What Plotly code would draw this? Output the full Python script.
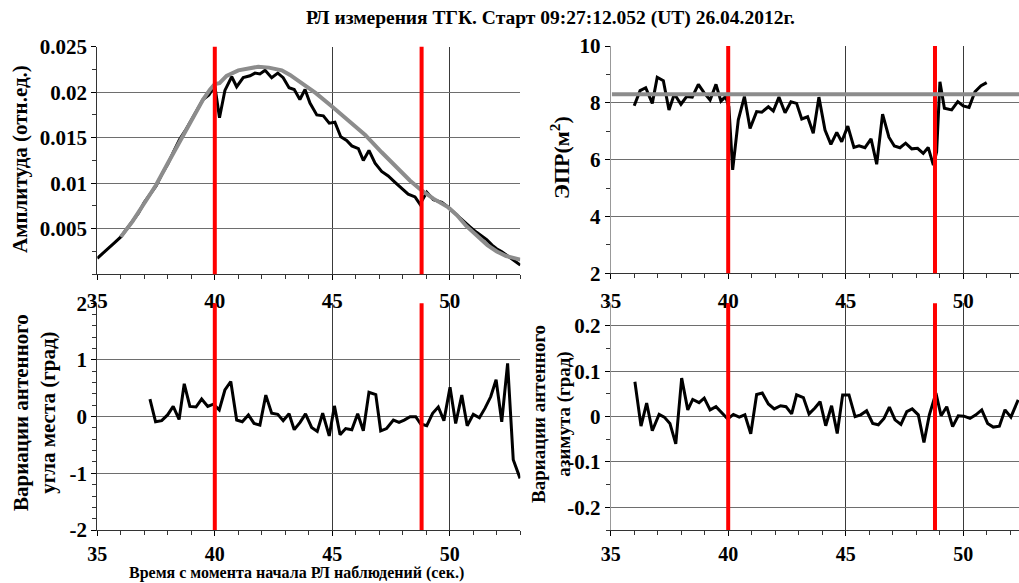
import plotly.graph_objects as go

# ---------------- data ----------------
title_text = "РЛ измерения ТГК. Старт 09:27:12.052 (UT) 26.04.2012г."
x_title = "Время с момента начала РЛ наблюдений (сек.)"

amp_t = [35.0, 35.25, 35.5, 35.75, 36.0, 36.25, 36.5, 36.75, 37.0, 37.25, 37.5, 37.75, 38.0, 38.25,
         38.5, 38.75, 39.0, 39.25, 39.5, 39.75, 40.0, 40.2, 40.43, 40.72, 40.93, 41.21, 41.5, 41.71,
         41.92, 42.14, 42.42, 42.68, 42.91, 43.16, 43.38, 43.62, 43.84, 44.05, 44.34, 44.62, 44.87,
         45.11, 45.36, 45.61, 45.83, 46.11, 46.32, 46.56, 46.82, 47.1, 47.38, 47.67, 47.95, 48.23,
         48.52, 48.73, 49.02, 49.3, 49.66, 50.01, 50.3, 50.58, 50.86, 51.14, 51.35, 51.57, 51.8,
         51.99, 52.2, 52.42, 52.7, 52.92, 53.0]
amp_v = [0.00175, 0.0023, 0.0029, 0.0035, 0.0041, 0.0050, 0.0058, 0.0067, 0.0079, 0.0088, 0.0097,
         0.0110, 0.0121, 0.0135, 0.0148, 0.0158, 0.0169, 0.0181, 0.0192, 0.0197, 0.0207, 0.0172,
         0.0202, 0.0217, 0.0206, 0.0216, 0.0218, 0.0221, 0.0220, 0.0224, 0.0216, 0.0221, 0.0216,
         0.0205, 0.0203, 0.0192, 0.0203, 0.0188, 0.0175, 0.0174, 0.0166, 0.0167, 0.0151, 0.0147,
         0.0141, 0.0138, 0.0125, 0.0136, 0.0122, 0.0113, 0.0108, 0.0101, 0.0094, 0.0088, 0.0085,
         0.0077, 0.0090, 0.0082, 0.0079, 0.0072, 0.0065, 0.0058, 0.0052, 0.0046, 0.0042, 0.0038,
         0.0032, 0.0028, 0.0025, 0.0021, 0.0016, 0.0011, 0.0010]

fit_t = [36.0, 36.5, 37.0, 37.5, 38.0, 38.5, 39.0, 39.5, 39.8, 40.0, 40.2, 40.5, 41.0, 41.5, 41.85,
         42.3, 42.85, 43.2, 43.6, 44.3, 45.0, 45.7, 46.4, 47.1, 47.8, 48.3, 48.8, 49.3, 49.9, 50.3,
         50.7, 51.1, 51.6, 52.0, 52.4, 53.0]
fit_v = [0.0041, 0.0058, 0.0078, 0.0098, 0.0122, 0.0146, 0.0170, 0.0192, 0.0203, 0.0209, 0.0210,
         0.0218, 0.0224, 0.0227, 0.0228, 0.0227, 0.0224, 0.0219, 0.0212, 0.0199, 0.0184, 0.0169,
         0.0153, 0.0134, 0.0116, 0.0103, 0.0092, 0.0083, 0.0074, 0.0065, 0.0053, 0.0043, 0.0032,
         0.0025, 0.0020, 0.0016]

epr_t = [36.0, 36.25, 36.49, 36.77, 36.98, 37.24, 37.48, 37.71, 37.99, 38.23, 38.47, 38.73, 38.97,
         39.23, 39.48, 39.69, 39.89, 40.03, 40.19, 40.43, 40.69, 40.93, 41.21, 41.43, 41.71, 41.92,
         42.16, 42.42, 42.67, 42.91, 43.13, 43.38, 43.62, 43.86, 44.12, 44.37, 44.62, 44.83, 45.09,
         45.35, 45.57, 45.82, 46.08, 46.32, 46.57, 46.84, 47.07, 47.31, 47.55, 47.81, 48.06, 48.30,
         48.51, 48.73, 48.87, 49.01, 49.20, 49.51, 49.77, 50.0, 50.25, 50.50, 50.76, 51.0]
epr_v = [7.90, 8.43, 8.53, 7.98, 8.90, 8.78, 7.75, 8.31, 7.95, 8.22, 8.20, 8.65, 8.36, 8.10, 8.65,
         8.06, 8.22, 7.86, 5.64, 7.40, 8.22, 7.10, 7.69, 7.67, 7.86, 7.71, 8.20, 7.65, 8.04, 7.98,
         7.43, 7.51, 6.93, 8.20, 7.04, 6.54, 6.96, 6.63, 7.18, 6.43, 6.49, 6.42, 6.73, 5.84, 7.60,
         6.79, 6.48, 6.42, 6.58, 6.38, 6.40, 6.22, 6.43, 5.81, 6.28, 8.74, 7.81, 7.75, 8.04, 7.89,
         7.84, 8.39, 8.60, 8.71]
epr_mean = 8.3

elev_t = [37.24, 37.48, 37.74, 37.99, 38.23, 38.48, 38.70, 38.94, 39.20, 39.44, 39.70, 39.94, 40.19,
          40.43, 40.68, 40.93, 41.17, 41.43, 41.67, 41.92, 42.17, 42.42, 42.68, 42.91, 43.16, 43.38,
          43.63, 43.86, 44.12, 44.36, 44.59, 44.87, 45.09, 45.33, 45.57, 45.83, 46.08, 46.32, 46.56,
          46.85, 47.06, 47.31, 47.60, 47.84, 48.06, 48.31, 48.55, 48.76, 49.02, 49.27, 49.51, 49.75,
          50.01, 50.25, 50.51, 50.74, 51.0, 51.26, 51.50, 51.74, 51.97, 52.21, 52.46, 52.70, 52.99]
elev_v = [0.31, -0.09, -0.07, 0.03, 0.18, -0.05, 0.58, 0.18, 0.17, 0.31, 0.18, 0.22, 0.12, 0.47,
          0.62, -0.06, -0.09, 0.03, -0.12, -0.15, 0.38, 0.06, 0.04, -0.07, 0.05, -0.23, -0.10, 0.05,
          -0.19, -0.26, 0.06, -0.34, 0.19, -0.32, -0.21, -0.23, 0.05, -0.25, 0.43, 0.39, -0.25,
          -0.21, -0.06, -0.10, -0.06, 0.0, 0.0, -0.13, -0.16, 0.06, 0.17, -0.07, 0.52, -0.12, 0.38,
          -0.16, 0.04, -0.02, 0.15, 0.35, 0.65, -0.09, 0.94, -0.76, -1.09]

azim_t = [36.03, 36.29, 36.53, 36.77, 37.06, 37.28, 37.52, 37.77, 38.02, 38.28, 38.49, 38.76, 38.98,
          39.23, 39.48, 39.72, 39.98, 40.22, 40.47, 40.71, 40.96, 41.21, 41.45, 41.71, 41.96, 42.23,
          42.46, 42.70, 42.91, 43.20, 43.44, 43.69, 43.91, 44.15, 44.40, 44.64, 44.87, 45.14, 45.40,
          45.64, 45.89, 46.15, 46.39, 46.63, 46.86, 47.10, 47.35, 47.60, 47.83, 48.09, 48.33, 48.56,
          48.84, 49.06, 49.30, 49.55, 49.79, 50.03, 50.29, 50.54, 50.79, 51.04, 51.28, 51.54, 51.78,
          52.03, 52.34]
azim_v = [0.077, -0.021, 0.030, -0.031, 0.005, -0.001, -0.015, -0.060, 0.085, 0.015, 0.038, 0.031,
          0.041, 0.015, 0.022, 0.009, -0.005, 0.005, -0.001, 0.004, -0.038, 0.049, 0.052, 0.028,
          0.017, 0.024, 0.022, 0.006, 0.048, 0.042, 0.006, 0.019, 0.033, -0.020, 0.024, -0.037,
          0.048, 0.048, 0.0, 0.004, 0.013, -0.015, -0.018, -0.004, 0.021, -0.007, -0.017, 0.011,
          0.017, 0.004, -0.057, 0.004, 0.052, 0.002, 0.022, -0.022, 0.002, 0.001, -0.004, 0.004,
          0.015, -0.015, -0.023, -0.021, 0.015, -0.001, 0.037]

markers = [40.0, 48.8]

x_ticks = [35, 40, 45, 50]
amp_ticks = [0.005, 0.01, 0.015, 0.02, 0.025]
epr_ticks = [2, 4, 6, 8, 10]
elev_ticks = [-2, -1, 0, 1, 2]
azim_ticks = [-0.2, -0.1, 0, 0.1, 0.2]

# ---------------- figure ----------------
W, H = 1019, 583
FONT = "Liberation Serif, Times New Roman, serif"


def px_x(p):
    return p / W


def px_y(p):
    return 1 - p / H


def b(s):
    return f"<b>{s}</b>"


fig = go.Figure()
fig.add_trace(go.Scatter(x=amp_t, y=amp_v, mode="lines", line=dict(color="black", width=3),
                         xaxis="x", yaxis="y", showlegend=False))
fig.add_trace(go.Scatter(x=fit_t, y=fit_v, mode="lines", line=dict(color="#8c8c8c", width=4),
                         xaxis="x", yaxis="y", showlegend=False))
fig.add_trace(go.Scatter(x=epr_t, y=epr_v, mode="lines", line=dict(color="black", width=3),
                         xaxis="x2", yaxis="y2", showlegend=False))
fig.add_trace(go.Scatter(x=elev_t, y=elev_v, mode="lines", line=dict(color="black", width=3),
                         xaxis="x3", yaxis="y3", showlegend=False))
fig.add_trace(go.Scatter(x=azim_t, y=azim_v, mode="lines", line=dict(color="black", width=3),
                         xaxis="x4", yaxis="y4", showlegend=False))

left_dom = [px_x(97.3), px_x(520.3)]
right_dom = [px_x(610.7), 1.0]
top_dom = [px_y(274.2), px_y(46.7)]
top_dom2 = [px_y(273.3), px_y(46)]
bot_dom = [px_y(530), px_y(303.3)]


def xax(dom, rng, anchor, linecolor, fsize, standoff):
    return dict(domain=dom, range=rng, anchor=anchor, tickmode="array", tickvals=x_ticks,
                ticktext=[b(v) for v in x_ticks], automargin=False,
                ticks="outside", ticklen=5, tickcolor="black",
                tickfont=dict(family=FONT, size=fsize, color="black"),
                ticklabelstandoff=standoff,
                showgrid=True, gridcolor="#3a3a3a", gridwidth=1, zeroline=False,
                showline=True, linecolor="#333", linewidth=1,
                minor=dict(tickmode="linear", tick0=35, dtick=1, ticks="outside", ticklen=4,
                           tickcolor="#333", showgrid=False))


def yax(dom, rng, anchor, vals, texts, mdt, linecolor):
    return dict(domain=dom, range=rng, anchor=anchor, tickmode="array", tickvals=vals,
                ticktext=[b(t) for t in texts], automargin=False,
                ticks="outside", ticklen=5, tickcolor="black",
                tickfont=dict(family=FONT, size=21, color="black"),
                showgrid=True, gridcolor="#6e6e6e", gridwidth=1, zeroline=False,
                showline=True, linecolor=linecolor, linewidth=1,
                minor=dict(tickmode="linear", tick0=rng[0], dtick=mdt, ticks="outside",
                           ticklen=4, tickcolor="#333", showgrid=False))


fig.update_layout(
    width=W, height=H, margin=dict(l=0, r=0, t=0, b=0, autoexpand=False),
    paper_bgcolor="white", plot_bgcolor="white", showlegend=False,
    xaxis=xax(left_dom, [35, 53], "y", "#333", 21, 3),
    yaxis=yax(top_dom, [0, 0.025], "x", amp_ticks, [f"{v:g}" for v in amp_ticks], 0.0025, "#333"),
    xaxis2=xax(right_dom, [35, 52.375], "y2", "#999", 21, 3),
    yaxis2=yax(top_dom2, [2, 10], "x2", epr_ticks, [str(v) for v in epr_ticks], 1, "#999"),
    xaxis3=xax(left_dom, [35, 53], "y3", "#333", 20, 1),
    yaxis3=yax(bot_dom, [-2, 2], "x3", elev_ticks, [str(v) for v in elev_ticks], 0.2, "#333"),
    xaxis4=xax(right_dom, [35, 52.375], "y4", "#999", 20, 1),
    yaxis4=yax(bot_dom, [-0.25, 0.25], "x4", azim_ticks, [f"{v:g}" for v in azim_ticks], 0.05, "#999"),
)

# red event lines
for xr, yr in [("x", "y"), ("x2", "y2"), ("x3", "y3"), ("x4", "y4")]:
    for m in markers:
        fig.add_shape(type="line", xref=xr, yref=yr + " domain", x0=m, x1=m, y0=0, y1=1,
                      line=dict(color="#ff0000", width=4), layer="above")

# mean ЭПР line
fig.add_shape(type="line", xref="x2 domain", yref="y2", x0=0.003, x1=1, y0=epr_mean, y1=epr_mean,
              line=dict(color="#8c8c8c", width=4), layer="above")


def afont(size):
    return dict(family=FONT, size=size, color="black")


fig.add_annotation(x=px_x(550), y=px_y(18), xref="paper", yref="paper", text=b(title_text),
                   showarrow=False, xanchor="center", yanchor="middle", font=afont(19.5))
fig.add_annotation(x=px_x(296), y=0, xref="paper", yref="paper", text=b(x_title),
                   showarrow=False, xanchor="center", yanchor="bottom", font=afont(16), borderpad=0)
fig.add_annotation(x=px_x(20), y=px_y(159), xref="paper", yref="paper",
                   text=b("Амплитуда (отн.ед.)"), textangle=-90, showarrow=False,
                   xanchor="center", yanchor="middle", font=afont(21))
fig.add_annotation(x=px_x(560), y=px_y(158), xref="paper", yref="paper",
                   text=b("ЭПР(м<sup>2</sup>)"), textangle=-90, showarrow=False,
                   xanchor="center", yanchor="middle", font=afont(22))
fig.add_annotation(x=px_x(34), y=px_y(413), xref="paper", yref="paper",
                   text=b("Вариации антенного<br>угла места (град)"), textangle=-90, showarrow=False,
                   xanchor="center", yanchor="middle", font=afont(21))
fig.add_annotation(x=px_x(551), y=px_y(414), xref="paper", yref="paper",
                   text=b("Вариации антенного<br>азимута (град)"), textangle=-90, showarrow=False,
                   xanchor="center", yanchor="middle", font=afont(19))

fig.write_html("out.html")
